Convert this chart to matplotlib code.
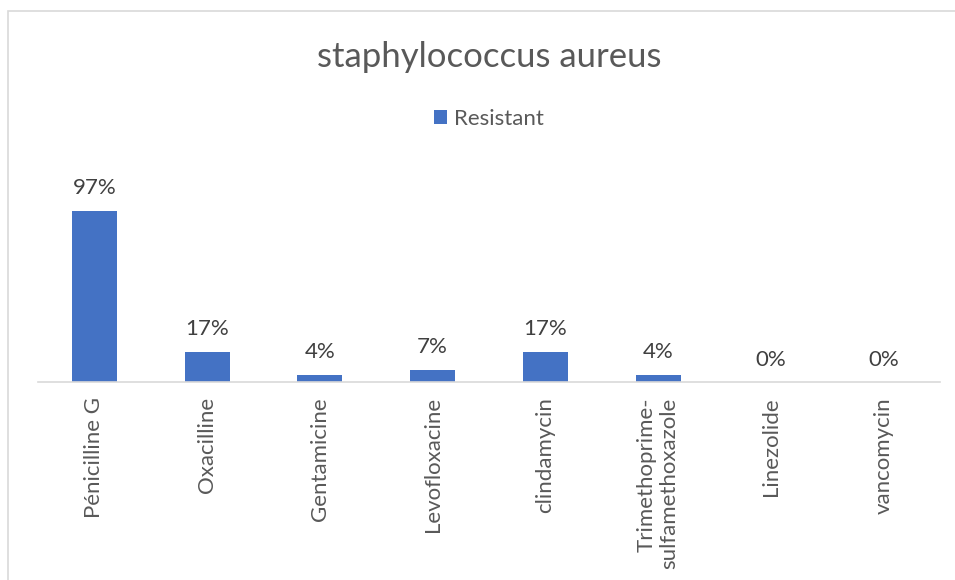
import matplotlib
matplotlib.use('Agg')
import matplotlib.pyplot as plt
from matplotlib.patches import Rectangle
import numpy as np

# data
drugs = ['Pénicilline G', 'Oxacilline', 'Gentamicine', 'Levofloxacine',
         'clindamycin', 'Trimethoprime-\nsulfamethoxazole', 'Linezolide', 'vancomycin']
resistant = [0.97, 0.17, 0.04, 0.07, 0.17, 0.04, 0.0, 0.0]
pct_labels = ['97%', '17%', '4%', '7%', '17%', '4%', '0%', '0%']

plt.rcParams['font.family'] = ['Lato', 'DejaVu Sans']
grey = '#595959'
blue = '#4472C4'

W, H = 955, 580
fig = plt.figure(figsize=(W / 100, H / 100), dpi=100)

# chart border (cut off at right and bottom)
fig.patches.append(Rectangle((8 / W, -0.05), 1.1, 1 - 11 / H + 0.05,
                             transform=fig.transFigure, fill=False,
                             edgecolor='#d9d9d9', linewidth=1.2))

# plot area: x 38..940, y 170..382 (pixels from top)
ax = fig.add_axes([38 / W, 1 - 382 / H, (940 - 38) / W, (382 - 170) / H])
x = np.arange(len(drugs))
bars = ax.bar(x, resistant, width=0.4, color=blue, label='Resistant')
ax.set_xlim(-0.5, len(drugs) - 0.5)
ax.set_ylim(0, 1.2)

for xi, v, lab in zip(x, resistant, pct_labels):
    ax.annotate(lab, (xi, v), xytext=(0, 9), textcoords='offset points',
                ha='center', va='bottom', fontsize=16, color='#404040')

ax.set_yticks([])
ax.set_xticks(x)
ax.set_xticklabels(drugs, rotation=90, fontsize=16, color=grey,
                   va='top', ha='center', multialignment='right')
ax.tick_params(axis='x', length=0, pad=11)
for s in ['top', 'right', 'left']:
    ax.spines[s].set_visible(False)
ax.spines['bottom'].set_color('#d9d9d9')
ax.spines['bottom'].set_linewidth(1.2)

fig.text(489 / W, 1 - 57 / H, 'staphylococcus aureus', ha='center', va='center',
         fontsize=25, color=grey)
fig.legend(handles=[bars], labels=['Resistant'], loc='center',
           bbox_to_anchor=(489 / W, 1 - 119 / H), frameon=False, fontsize=16,
           handlelength=0.6, handleheight=0.6, handletextpad=0.3, labelcolor=grey)

fig.savefig('out.png', dpi=100, facecolor='white')
